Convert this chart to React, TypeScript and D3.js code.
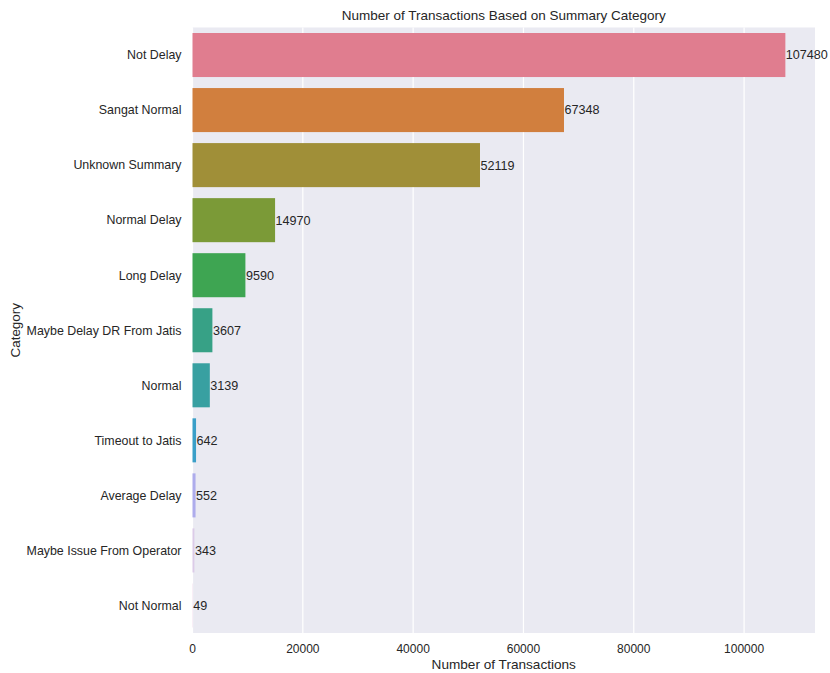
import React from "react";
import * as d3 from "d3";

const categories = [
  "Not Delay",
  "Sangat Normal",
  "Unknown Summary",
  "Normal Delay",
  "Long Delay",
  "Maybe Delay DR From Jatis",
  "Normal",
  "Timeout to Jatis",
  "Average Delay",
  "Maybe Issue From Operator",
  "Not Normal",
];
const counts = [107480, 67348, 52119, 14970, 9590, 3607, 3139, 642, 552, 343, 49];
const barColors = [
  "#e07d8f", "#d17f3e", "#a08f38", "#7b9a37", "#3ea552", "#37a186",
  "#38a0a1", "#3a9fc8", "#aeacec", "#dccbe8", "#e8c4e2",
];
const xTicks = [0, 20000, 40000, 60000, 80000, 100000];

const W = 830;
const H = 673;
const left = 192.5;
const right = 815;
const top = 27.5;
const bottom = 633;
const font = "'Liberation Sans', Arial, sans-serif";
const textColor = "#262626";

export default function App() {
  const maxV = d3.max(counts) as number;
  const x = d3.scaleLinear().domain([0, maxV * 1.05]).range([left, right]);
  const y = d3.scaleBand().domain(categories).range([top, bottom]).paddingInner(0.2).paddingOuter(0.1);

  return (
    <svg width={W} height={H} style={{ position: "absolute", left: 0, top: 0 }}>
      <rect x={0} y={0} width={W} height={H} fill="#ffffff" />
      <rect x={left} y={top} width={right - left} height={bottom - top} fill="#eaeaf2" />
      {xTicks.map((t) => (
        <line key={t} x1={x(t)} x2={x(t)} y1={top} y2={bottom} stroke="#ffffff" strokeWidth={1.2} />
      ))}
      {categories.map((c, i) => (
        <rect key={c} x={x(0)} y={y(c)} width={x(counts[i]) - x(0)} height={y.bandwidth()} fill={barColors[i]} />
      ))}
      {categories.map((c, i) => (
        <text
          key={c + "v"}
          x={x(counts[i]) + 0.5}
          y={(y(c) as number) + y.bandwidth() / 2}
          dy="0.35em"
          fontFamily={font}
          fontSize={12.6}
          fill={textColor}
        >
          {counts[i]}
        </text>
      ))}
      {categories.map((c) => (
        <text
          key={c + "t"}
          x={left - 11}
          y={(y(c) as number) + y.bandwidth() / 2}
          dy="0.35em"
          textAnchor="end"
          fontFamily={font}
          fontSize={12.4}
          fill={textColor}
        >
          {c}
        </text>
      ))}
      {xTicks.map((t) => (
        <text key={t + "x"} x={x(t)} y={653} textAnchor="middle" fontFamily={font} fontSize={12} fill={textColor}>
          {t}
        </text>
      ))}
      <text x={(left + right) / 2} y={669} textAnchor="middle" fontFamily={font} fontSize={13.6} fill={textColor}>
        Number of Transactions
      </text>
      <text
        transform={`translate(20, ${(top + bottom) / 2}) rotate(-90)`}
        textAnchor="middle"
        fontFamily={font}
        fontSize={13.4}
        fill={textColor}
      >
        Category
      </text>
      <text x={(left + right) / 2} y={20} textAnchor="middle" fontFamily={font} fontSize={13.5} fill={textColor}>
        Number of Transactions Based on Summary Category
      </text>
    </svg>
  );
}
